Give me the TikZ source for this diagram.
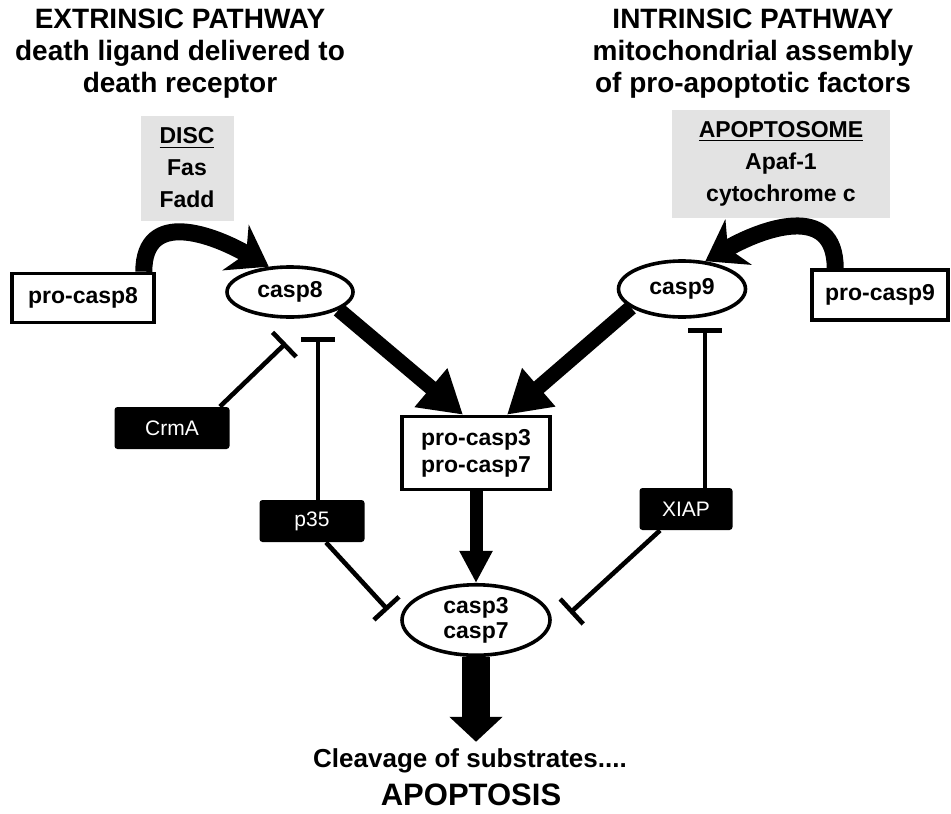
\documentclass[tikz,border=0pt]{standalone}
\usepackage{fontspec}
\setmainfont{Liberation Sans}
\usetikzlibrary{arrows.meta, shapes.geometric}

\begin{document}
\begin{tikzpicture}[x=0.5pt, y=-0.5pt, font=\bfseries,
        casp/.style={draw, ellipse, line width=1.8pt, fill=white, inner sep=1pt, align=center, font=\fontsize{11.5}{12.5}\selectfont\bfseries},
        probox/.style={draw, rectangle, line width=1.8pt, fill=white, align=center, inner sep=2pt, font=\fontsize{11.5}{13.5}\selectfont\bfseries},
        blocker/.style={fill=black, text=white, rounded corners=1.5pt, minimum height=21pt, font=\fontsize{10.5}{12}\selectfont},
        cplx/.style={fill=gray!22, align=center, font=\fontsize{11.5}{16}\selectfont\bfseries},
        heading/.style={align=center, font=\fontsize{14}{16}\selectfont\bfseries},
        recruit/.style={line width=8.5pt, -{Stealth[length=19pt, width=26pt, inset=6pt]}},
        fat/.style={line width=7.5pt, -{Triangle[length=21pt, width=24pt]}},
        inhibit/.style={line width=2.3pt, -{Bar[width=17pt]}}]
        \useasboundingbox (0,0) rectangle (951,813);

        % pathway headings
        \node[heading] (extr) at (180,54) {EXTRINSIC PATHWAY\\death ligand delivered to\\death receptor};
        \node[heading] (intr) at (753,54) {INTRINSIC PATHWAY\\mitochondrial assembly\\of pro-apoptotic factors};

        % complexes (grey)
        \node[cplx, minimum width=46.5pt, minimum height=52.5pt] (disc) at (187,168) {\underline{DISC}\\Fas\\Fadd};
        \node[cplx, minimum width=109pt, minimum height=54pt] (apop) at (781,164) {\underline{APOPTOSOME}\\Apaf-1\\cytochrome c};

        % initiator caspases
        \node[probox, minimum width=71pt, minimum height=24.5pt] (pro8) at (83,298) {pro-casp8};
        \node[casp, minimum width=63pt, minimum height=25pt] (casp8) at (290,292) {casp8};
        \node[casp, minimum width=63.5pt, minimum height=28pt] (casp9) at (682,289) {casp9};
        \node[probox, minimum width=68pt, minimum height=25pt] (pro9) at (880,295) {pro-casp9};

        % effector caspases
        \node[probox, minimum width=74pt, minimum height=36.5pt] (pro37) at (476,453) {pro-casp3\\pro-casp7};
        \node[casp, minimum width=74pt, minimum height=33pt] (casp37) at (476,620) {casp3\\casp7};

        % inhibitors
        \node[blocker, minimum width=57.5pt] (crma) at (172,428) {CrmA};
        \node[blocker, minimum width=52.5pt] (p35) at (312,521) {p35};
        \node[blocker, minimum width=46.5pt] (xiap) at (686,509) {XIAP};

        % outcome
        \node[font=\fontsize{13}{15}\selectfont\bfseries] (cleave) at (470,761) {Cleavage of substrates....};
        \node[font=\fontsize{15.5}{18}\selectfont\bfseries] (apoptosis) at (471,795) {APOPTOSIS};

        % ends of the inhibition bars
        \coordinate (crmaT) at (286,343);
        \coordinate (p35up) at (318,337);
        \coordinate (p35down) at (388,610);
        \coordinate (xiapup) at (705,328);
        \coordinate (xiapdown) at (570,613);

        % activation
        \draw[recruit] ([xshift=-6pt]pro8.north east) to[out=90, in=150, looseness=1.3] (casp8.130);
        \draw[recruit] ([xshift=12.5pt]pro9.north west) to[out=90, in=30, looseness=1.3] (casp9.50);
        \draw[fat] (casp8.-20) -- ([xshift=-6.5pt]pro37.north);
        \draw[fat] (casp9.200) -- ([xshift=15.5pt]pro37.north);
        \draw[line width=6.5pt, -{Triangle[length=16pt, width=15.5pt]}] (pro37) -- (casp37);
        \draw[line width=14pt, -{Triangle[length=12.5pt, width=26pt]}] (casp37.south) -- (casp37.south |- cleave.north);

        % inhibition
        \draw[inhibit] ([xshift=-5pt]crma.north east) -- (crmaT);
        \draw[inhibit] ([xshift=3pt]p35.north) -- (p35up);
        \draw[inhibit] ([xshift=7pt]p35.south) -- (p35down);
        \draw[inhibit] ([xshift=9.5pt]xiap.north) -- (xiapup);
        \draw[inhibit] ([xshift=-13pt]xiap.south) -- (xiapdown);
\end{tikzpicture}
\end{document}
